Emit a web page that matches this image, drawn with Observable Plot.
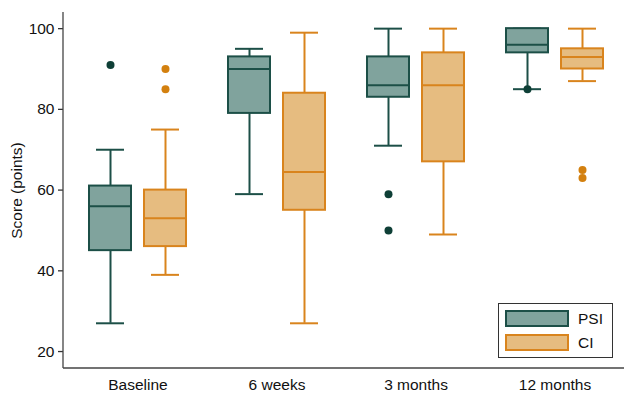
<!DOCTYPE html>
<html>
<head>
<meta charset="utf-8">
<script src="https://cdn.jsdelivr.net/npm/d3@7"></script>
<script src="https://cdn.jsdelivr.net/npm/@observablehq/plot@0.6"></script>
<style>
  html, body { margin: 0; padding: 0; background: #fff; }
  #chart { position: relative; width: 624px; height: 394px; font-family: "Liberation Sans", Arial, Helvetica, sans-serif; }
  #chart svg { display: block; }
  .legend { position: absolute; left: 498px; top: 303px; width: 115px; height: 55px; border: 1px solid #333; background: #fff; box-sizing: border-box; }
  .legend .sw { position: absolute; left: 6px; width: 64px; height: 17px; box-sizing: border-box; border: 2px solid; }
  .legend .lb { position: absolute; left: 79px; height: 17px; line-height: 17px; font-size: 15.5px; color: #111; }
</style>
</head>
<body>
<div id="chart"></div>
<script>
// ---- data ----
const categories = ["Baseline", "6 weeks", "3 months", "12 months"];
const series = ["PSI", "CI"];

const psiMin = [27, 59, 71, 85];
const psiQ1  = [45, 79, 83, 94];
const psiMed = [56, 90, 86, 96];
const psiQ3  = [61, 93, 93, 100];
const psiMax = [70, 95, 100, 100];
const psiOutliers = [[91], [], [59, 50], [85]];

const ciMin = [39, 27, 49, 87];
const ciQ1  = [46, 55, 67, 90];
const ciMed = [53, 64.5, 86, 93];
const ciQ3  = [60, 84, 94, 95];
const ciMax = [75, 99, 100, 100];
const ciOutliers = [[90, 85], [], [], [65, 63]];

const yTicks = [20, 40, 60, 80, 100];

// ---- styles ----
const fills   = {PSI: "#80a39d", CI: "#e6bc80"};
const strokes = {PSI: "#1c4f47", CI: "#d9841d"};
const dotFill = {PSI: "#0e3f36", CI: "#d3800f"};

// ---- build tables ----
const stats = {
  PSI: {min: psiMin, q1: psiQ1, med: psiMed, q3: psiQ3, max: psiMax, out: psiOutliers},
  CI:  {min: ciMin,  q1: ciQ1,  med: ciMed,  q3: ciQ3,  max: ciMax,  out: ciOutliers}
};
const boxes = [];
const outliers = [];
for (const s of series) {
  categories.forEach((c, i) => {
    const st = stats[s];
    boxes.push({group: c, series: s, min: st.min[i], q1: st.q1[i], med: st.med[i], q3: st.q3[i], max: st.max[i]});
    st.out[i].forEach(v => outliers.push({group: c, series: s, value: v}));
  });
}

const marks = [];
for (const s of series) {
  const b = boxes.filter(d => d.series === s);
  const o = outliers.filter(d => d.series === s);
  marks.push(
    Plot.ruleX(b, {fx: "group", x: "series", y1: "q3", y2: "max", stroke: strokes[s], strokeWidth: 2}),
    Plot.ruleX(b, {fx: "group", x: "series", y1: "min", y2: "q1", stroke: strokes[s], strokeWidth: 2}),
    Plot.tickY(b, {fx: "group", x: "series", y: "max", stroke: strokes[s], strokeWidth: 2, insetLeft: 7, insetRight: 7}),
    Plot.tickY(b, {fx: "group", x: "series", y: "min", stroke: strokes[s], strokeWidth: 2, insetLeft: 7, insetRight: 7}),
    Plot.barY(b, {fx: "group", x: "series", y1: "q1", y2: "q3", fill: fills[s], stroke: strokes[s], strokeWidth: 2}),
    Plot.tickY(b, {fx: "group", x: "series", y: "med", stroke: strokes[s], strokeWidth: 2}),
    Plot.dot(o, {fx: "group", x: "series", y: "value", r: 4, fill: dotFill[s], stroke: "none"})
  );
}

const plot = Plot.plot({
  width: 624,
  height: 394,
  marginLeft: 63,
  marginRight: 0,
  marginTop: 12,
  marginBottom: 26,
  style: {fontFamily: '"Liberation Sans", Arial, Helvetica, sans-serif', fontSize: "15px", color: "#111", background: "#fff"},
  fx: {domain: categories, range: [68, 624], padding: 0, label: null},
  x: {domain: series, paddingInner: 0.236, paddingOuter: 0.3815, axis: null},
  y: {domain: [15.8, 104]},
  marks: [
    Plot.axisY({ticks: yTicks, tickSize: 5, tickPadding: 4, stroke: "#333", strokeWidth: 1.3, color: "#111", fontSize: 15.5, dx: -5,
      label: "Score (points)", labelAnchor: "center", labelArrow: "none", labelOffset: 58}),
    Plot.axisFx({anchor: "bottom", tickSize: 0, tickPadding: 10, color: "#111", fontSize: 15.5, label: null}),
    ...marks
  ]
});

const chart = document.getElementById("chart");
chart.appendChild(plot);

// axis lines (frame edges) drawn with the plot's own y scale
const yScale = plot.scale("y");
const svg = d3.select(plot.tagName.toLowerCase() === "svg" ? plot : plot.querySelector("svg"));
const yBottom = yScale.range[0], yTop = yScale.range[1];
const xLeft = 63, xRight = 624;
const axisG = svg.append("g").attr("stroke", "#444").attr("stroke-width", 1.3);
axisG.append("line").attr("x1", xLeft).attr("x2", xLeft).attr("y1", yTop).attr("y2", yBottom);
axisG.append("line").attr("x1", xLeft).attr("x2", xRight).attr("y1", yBottom).attr("y2", yBottom);

// legend
const legend = document.createElement("div");
legend.className = "legend";
series.forEach((s, i) => {
  const sw = document.createElement("div");
  sw.className = "sw";
  sw.style.top = (6 + i * 24) + "px";
  sw.style.background = fills[s];
  sw.style.borderColor = strokes[s];
  const lb = document.createElement("div");
  lb.className = "lb";
  lb.style.top = (6 + i * 24) + "px";
  lb.textContent = s;
  legend.appendChild(sw);
  legend.appendChild(lb);
});
chart.appendChild(legend);
</script>
</body>
</html>
